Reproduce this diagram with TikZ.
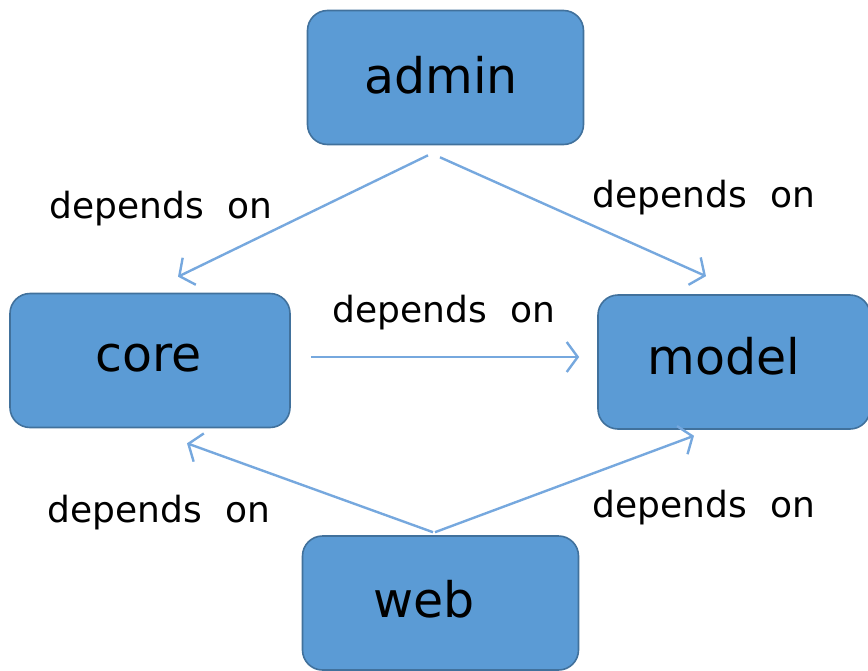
\documentclass[tikz,border=0pt]{standalone}
\usepackage{fontspec}
\setmainfont{DejaVu Sans}
\usepackage{tikz}
\usetikzlibrary{arrows.meta, positioning}
\definecolor{modulefill}{RGB}{91,155,213}
\definecolor{moduleedge}{RGB}{65,113,156}
\definecolor{depline}{RGB}{118,168,222}

\begin{document}
\begin{tikzpicture}[
    x=1pt, y=-1pt,
    module/.style={draw=moduleedge, line width=1.6pt, fill=modulefill, minimum width=276pt, minimum height=134pt, rounded corners=20pt, font=\fontsize{49}{56}\selectfont, inner sep=0pt},
    deplabel/.style={font=\fontsize{36}{42}\selectfont, inner sep=0pt},
    arrow/.style={-{Straight Barb[length=11pt, width=30pt, line width=2.4pt]}, depline, line width=2.4pt}
]
    \useasboundingbox (0,0) rectangle (868,670);

    % Modules
    \node[module] (admin) at (445.5,77.5) {\hspace*{-9pt}\raisebox{6pt}{admin}};
    \node[module, minimum width=280pt] (core) at (150,360.5) {\hspace*{-3pt}\raisebox{5pt}{core}};
    \node[module, minimum width=272pt] (model) at (734,362) {\hspace*{-20pt}\raisebox{12pt}{model}};
    \node[module] (web) at (440.5,603) {\hspace*{-33pt}\raisebox{8pt}{web}};

    % Labels
    \node[deplabel] (lbl1) at (161,209) {depends\ \ on};
    \node[deplabel] (lbl2) at (704,198) {depends\ \ on};
    \node[deplabel] (lbl3) at (444,313) {depends\ \ on};
    \node[deplabel] (lbl4) at (159,513) {depends\ \ on};
    \node[deplabel] (lbl5) at (704,508) {depends\ \ on};

    % Dependencies
    \draw[arrow] ([xshift=-17.5pt, yshift=-10pt]admin.south) -- ([xshift=28pt, yshift=16pt]core.north);
    \draw[arrow] ([xshift=-5.5pt, yshift=-12pt]admin.south) -- ([xshift=-28pt, yshift=18pt]model.north);
    \draw[arrow] ([xshift=20pt, yshift=3.5pt]core.east) -- ([xshift=-18pt, yshift=5pt]model.west);
    \draw[arrow] ([xshift=-7.5pt, yshift=3pt]web.north) -- ([xshift=37pt, yshift=-15pt]core.south);
    \draw[arrow] ([xshift=-5.5pt, yshift=3pt]web.north) -- ([xshift=-40pt, yshift=-6pt]model.south);
\end{tikzpicture}
\end{document}
